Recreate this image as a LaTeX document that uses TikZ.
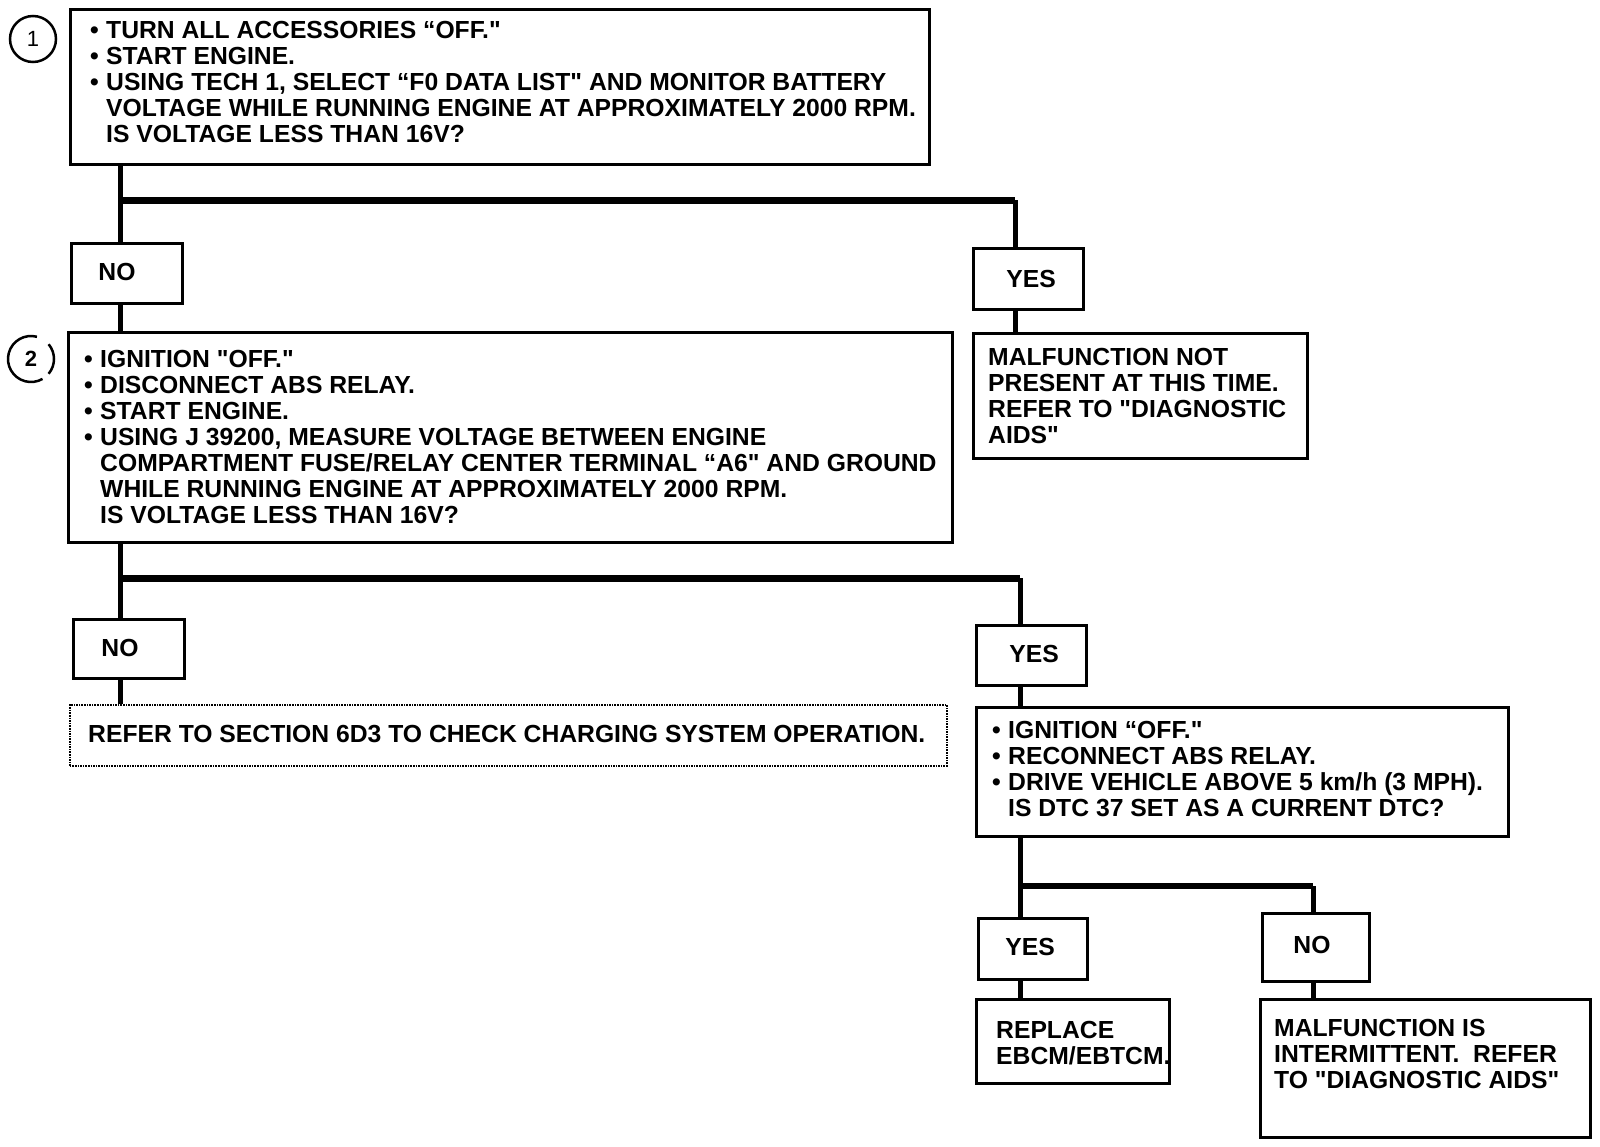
\documentclass[tikz,border=0pt]{standalone}
\usepackage{fontspec}
\setmainfont{Liberation Sans}
\begin{document}
\begin{tikzpicture}[x=1pt,y=-1pt,
  box/.style={draw, line width=3pt, inner sep=0pt, anchor=north west},
  dotbox/.style={draw, line width=1.6pt, densely dotted, inner sep=0pt, anchor=north west},
  txt/.style={anchor=north west, inner sep=0pt, align=left, font=\bfseries\fontsize{24.7}{26}\selectfont},
  ans/.style={inner sep=0pt, font=\bfseries\fontsize{24.7}{26}\selectfont},
  conn/.style={line width=5pt},
  bar/.style={line width=7pt},
  num/.style={draw, circle, line width=2.5pt, minimum size=46pt, inner sep=0pt, font=\fontsize{22}{24}\selectfont}]
\useasboundingbox (0,0) rectangle (1600,1146);
\newcommand{\bl}{\makebox[16pt][l]{\textbullet}}
\newcommand{\ind}{\hspace*{16pt}}
\newcommand{\qd}{\textquotedbl}

% boxes
\node[box, minimum width=859pt, minimum height=155pt] (b1) at (69,8) {};
\node[box, minimum width=111pt, minimum height=60pt] (n1) at (70,242) {};
\node[box, minimum width=110pt, minimum height=61pt] (y1) at (972,247) {};
\node[box, minimum width=884pt, minimum height=210pt] (b2) at (67,331) {};
\node[box, minimum width=334pt, minimum height=125pt] (m1) at (972,332) {};
\node[box, minimum width=111pt, minimum height=59pt] (n2) at (72,618) {};
\node[dotbox, minimum width=877pt, minimum height=61pt] (r2) at (69,704) {};
\node[box, minimum width=110pt, minimum height=60pt] (y2) at (975,624) {};
\node[box, minimum width=532pt, minimum height=129pt] (b3) at (975,706) {};
\node[box, minimum width=109pt, minimum height=61pt] (y3) at (977,917) {};
\node[box, minimum width=107pt, minimum height=68pt] (n3) at (1261,912) {};
\node[box, minimum width=193pt, minimum height=84pt] (r3) at (975,998) {};
\node[box, minimum width=330pt, minimum height=138pt] (m3) at (1259,998) {};

% step numbers
\node[num] (c1) at (33,39) {1};
\node (c2) at (31,359) {\fontsize{22}{24}\selectfont\bfseries 2};
\draw[line width=2.5pt] (31,359) ++(75:23pt) arc[start angle=75, end angle=300, radius=23pt];
\draw[line width=2.5pt] (31,359) ++(-40:23pt) arc[start angle=-40, end angle=40, radius=23pt];

% texts
\node[txt] (t1) at (90,21) {\bl TURN ALL ACCESSORIES “OFF.\qd\\
\bl START ENGINE.\\
\bl USING TECH 1, SELECT “F0 DATA LIST\qd{} AND MONITOR BATTERY\\
\ind VOLTAGE WHILE RUNNING ENGINE AT APPROXIMATELY 2000 RPM.\\
\ind IS VOLTAGE LESS THAN 16V?};
\node[ans] (tn1) at (117,272) {NO};
\node[ans] (ty1) at (1031,279) {YES};
\node[txt] (t2) at (84,350) {\bl IGNITION \qd OFF.\qd\\
\bl DISCONNECT ABS RELAY.\\
\bl START ENGINE.\\
\bl USING J 39200, MEASURE VOLTAGE BETWEEN ENGINE\\
\ind COMPARTMENT FUSE/RELAY CENTER TERMINAL “A6\qd{} AND GROUND\\
\ind WHILE RUNNING ENGINE AT APPROXIMATELY 2000 RPM.\\
\ind IS VOLTAGE LESS THAN 16V?};
\node[txt] (tm1) at (988,348) {MALFUNCTION NOT\\
PRESENT AT THIS TIME.\\
REFER TO \qd DIAGNOSTIC\\
AIDS\qd};
\node[ans] (tn2) at (120,648) {NO};
\node[txt] (tr2) at (88,725) {REFER TO SECTION 6D3 TO CHECK CHARGING SYSTEM OPERATION.};
\node[ans] (ty2) at (1034,654) {YES};
\node[txt] (t3) at (992,721) {\bl IGNITION “OFF.\qd\\
\bl RECONNECT ABS RELAY.\\
\bl DRIVE VEHICLE ABOVE 5 km/h (3 MPH).\\
\ind IS DTC 37 SET AS A CURRENT DTC?};
\node[ans] (ty3) at (1030,947) {YES};
\node[ans] (tn3) at (1312,945) {NO};
\node[txt] (tr3) at (996,1021) {REPLACE\\EBCM/EBTCM.};
\node[txt] (tm3) at (1274,1019) {MALFUNCTION IS\\
INTERMITTENT.\ \ REFER\\
TO \qd DIAGNOSTIC AIDS\qd};

% junctions
\coordinate (j1) at (120,200);
\coordinate (j1r) at (1015,200);
\coordinate (j2) at (120,578);
\coordinate (j2r) at (1020,578);
\coordinate (j3) at (1020,886);
\coordinate (j3r) at (1313,886);

% connectors
\draw[conn] (b1.south -| j1) -- (n1.north -| j1);
\draw[bar] (j1) -- (j1r);
\draw[conn] (j1r) -- (y1.north -| j1r);
\draw[conn] (y1.south -| j1r) -- (m1.north -| j1r);
\draw[conn] (n1.south -| j1) -- (b2.north -| j1);

\draw[conn] (b2.south -| j2) -- (n2.north -| j2);
\draw[bar] (j2) -- (j2r);
\draw[conn] (j2r) -- (y2.north -| j2r);
\draw[conn] (n2.south -| j2) -- (r2.north -| j2);
\draw[conn] (y2.south -| j2r) -- (b3.north -| j2r);

\draw[conn] (b3.south -| j3) -- (y3.north -| j3);
\draw[line width=6pt] (j3) -- (j3r);
\draw[conn] (j3r) -- (n3.north -| j3r);
\draw[conn] (y3.south -| j3) -- (r3.north -| j3);
\draw[conn] (n3.south -| j3r) -- (m3.north -| j3r);
\end{tikzpicture}
\end{document}
